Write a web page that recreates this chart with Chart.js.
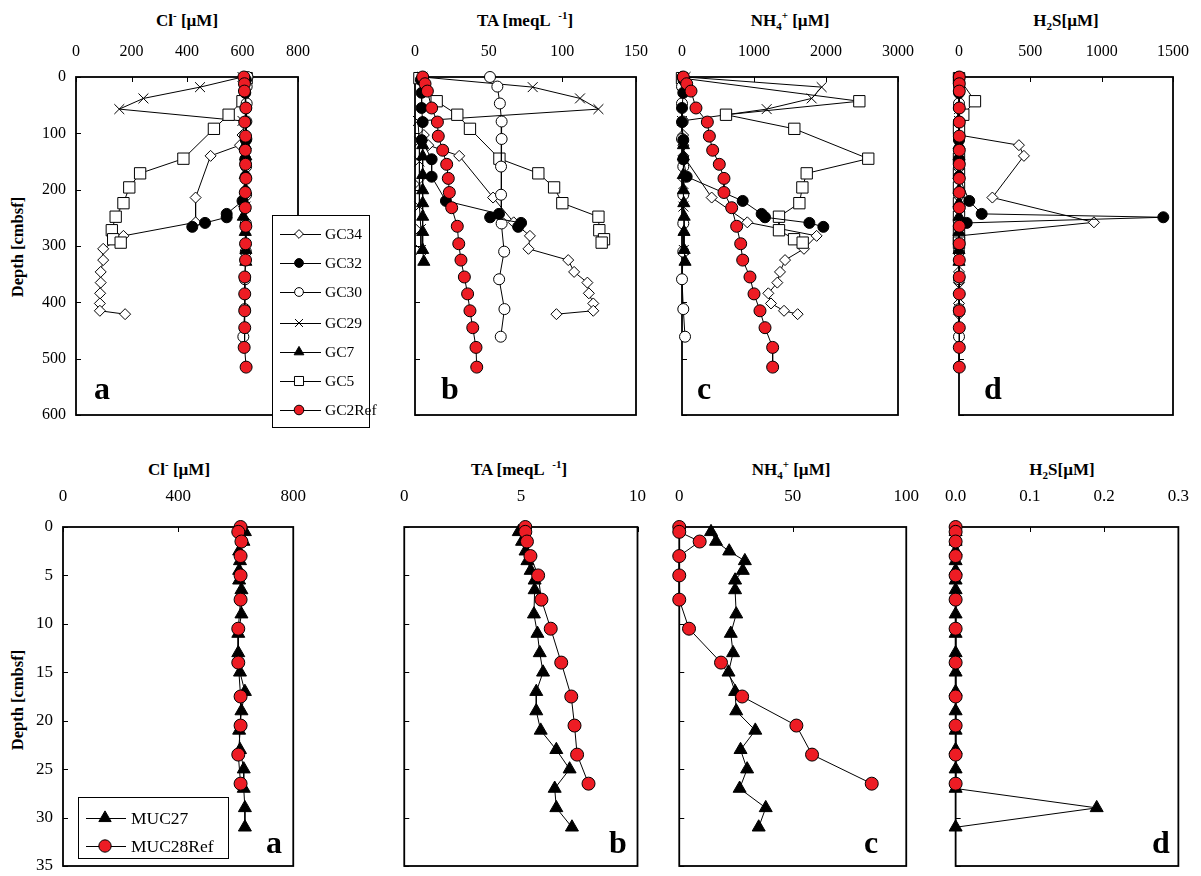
<!DOCTYPE html>
<html>
<head>
<meta charset="utf-8">
<script src="https://cdn.jsdelivr.net/npm/chart.js@4.4.0/dist/chart.umd.min.js"></script>
<style>
  html,body{margin:0;padding:0;background:#fff;}
  body{width:1201px;height:876px;position:relative;overflow:hidden;font-family:"Liberation Serif","Times New Roman",serif;color:#000;}
  canvas.cv{position:absolute;}
  .t{position:absolute;font-weight:bold;font-size:17px;line-height:20px;white-space:nowrap;transform:translateX(-50%);}
  .t sup,.t sub{font-size:11px;line-height:0;}
  .yt{position:absolute;font-weight:bold;font-size:16.5px;line-height:20px;white-space:nowrap;transform:translate(-50%,-50%) rotate(-90deg);}
  .let{position:absolute;font-weight:bold;font-size:32px;line-height:32px;z-index:3;}
  .leg{position:absolute;background:#fff;border:1px solid #000;z-index:5;}
  .leg canvas{position:absolute;left:0;top:0;}
  .lt{position:absolute;white-space:nowrap;}
</style>
</head>
<body>
<div class="t" style="left:187px;top:11px">Cl<sup>-</sup> [µM]</div>
<div class="t" style="left:525px;top:11px">TA [meqL &nbsp;<sup>-1</sup>]</div>
<div class="t" style="left:790px;top:11px">NH<sub>4</sub><sup>+</sup> [µM]</div>
<div class="t" style="left:1066px;top:11px">H<sub>2</sub>S[µM]</div>
<div class="t" style="left:179px;top:460px">Cl<sup>-</sup> [µM]</div>
<div class="t" style="left:519px;top:460px">TA [meqL &nbsp;<sup>-1</sup>]</div>
<div class="t" style="left:791px;top:460px">NH<sub>4</sub><sup>+</sup> [µM]</div>
<div class="t" style="left:1062px;top:460px">H<sub>2</sub>S[µM]</div>
<div class="yt" style="left:18px;top:247px">Depth [cmbsf]</div>
<div class="yt" style="left:18px;top:700px">Depth [cmbsf]</div>

<div class="let" style="left:94px;top:372px">a</div>
<div class="let" style="left:441px;top:372px">b</div>
<div class="let" style="left:697px;top:372px">c</div>
<div class="let" style="left:984px;top:372px">d</div>
<div class="let" style="left:266px;top:826px">a</div>
<div class="let" style="left:609px;top:826px">b</div>
<div class="let" style="left:864px;top:826px">c</div>
<div class="let" style="left:1152px;top:826px">d</div>

<script>
// ---------------- Tick labels ----------------
const topDepthTicks = [0,100,200,300,400,500,600];
const botDepthTicks = [0,5,10,15,20,25,30,35];
const topClTicks  = [0,200,400,600,800];
const topTATicks  = [0,50,100,150];
const topNH4Ticks = [0,1000,2000,3000];
const topH2STicks = [0,500,1000,1500];
const botClTicks  = [0,400,800];
const botTATicks  = [0,5,10];
const botNH4Ticks = [0,50,100];
const botH2STicks = [0,0.1,0.2,0.3];

// ---------------- Gravity cores (top row), depth in cmbsf ----------------
const gc34Depth = [103,121,140,214,258,282,305,325,346,365,384,402,415,421];
const gc34Cl    = [600,591,485,431,431,171,98,98,89,89,87,86,86,177];
const gc34TA    = [6,9,30,53,67,78,77,104,108,117,118,121,121,96];
const gc34NH4   = [15,18,20,412,907,1870,1694,1431,1361,1324,1199,1236,1417,1606];
const gc34H2S   = [0,420,455,234,946,0,0,0,0,0,0,0,0,0];

const gc32Depth = [5,28,55,80,112,146,177,220,243,249,259,266];
const gc32Cl    = [612,610,612,611,612,610,611,600,543,543,465,419];
const gc32TA    = [4,4.5,4.5,5.2,4.5,11.3,11.3,21,57,51,72,70];
const gc32NH4   = [20,18,0,0,18,18,65,843,1106,1153,1769,1963];
const gc32H2S   = [0,0,0,0,0,0,0,72,159,1432,54,0];

const gc30Depth = [0,17,47,79,110,159,209,260,310,359,412,461];
const gc30Cl    = [618,615,615,614,614,613,613,612,612,609,608,603];
const gc30TA    = [50.9,55.9,57.6,58.8,58.8,58.4,58.4,58.8,60.5,57.1,60.7,58.2];
const gc30NH4   = [10,0,0,10,0,18,18,18,18,0,18,42];
const gc30H2S   = [0,0,0,0,0,0,0,0,0,0,0,0];

const gc29Depth = [0,18,38,57,78,115,150,190,230,270,307];
const gc29Cl    = [600,447,243,156,600,608,610,611,611,610,611];
const gc29TA    = [5,79.9,112,124.5,2,3,3,3,3,4,4];
const gc29NH4   = [50,1940,1801,1176,0,20,20,20,20,25,25];
const gc29H2S   = [0,0,0,0,0,0,0,0,0,0,0];

const gc7Depth  = [121,141,174,201,224,248,275,307,328];
const gc7Cl     = [610,612,610,611,608,603,610,612,612];
const gc7TA     = [5.2,5.2,5.2,5.2,5.2,5.2,5.2,5.2,6];
const gc7NH4    = [20,18,18,20,25,30,28,30,42];
const gc7H2S    = [0,0,0,0,0,0,0,0,0];

const gc5Depth  = [2,43,67,92,145,171,196,224,248,272,288,294];
const gc5Cl     = [615,600,550,497,387,231,192,171,143,129,134,161];
const gc5TA     = [3,14.7,28.7,37.3,57.3,83.7,94.4,100,124.5,125.1,128.3,126.7];
const gc5NH4    = [0,2463,611,1560,2587,1732,1672,1630,1347,1347,1556,1676];
const gc5H2S    = [0,112,30,0,0,0,0,0,0,0,0,0];

const gc2Depth  = [0,12,25,55,80,105,130,155,180,205,232,265,296,325,355,385,415,445,480,515];
const gc2Cl     = [605,607,607,612,608,611,610,611,612,610,610,612,611,611,608,608,608,608,606,613];
const gc2TA     = [5.2,6.8,8.4,11.3,15.2,15.8,18.8,21.5,22.6,23.3,24.9,28.7,29.7,31.2,33.5,35.7,37.3,39.2,41.4,41.9];
const gc2NH4    = [18,65,125,194,352,380,426,518,583,583,690,759,815,843,944,1000,1083,1153,1259,1259];
const gc2H2S    = [2,2,2,2,2,2,2,2,2,2,2,2,2,2,2,2,2,2,2,2];

// ---------------- Multicores (bottom row) ----------------
const muc27Depth = [0.5,1.5,2.5,3.5,4.5,5.5,6.5,9,11,13,15,17,19,21,23,25,27,29,31];
const muc27Cl    = [632,627,612,615,612,612,620,620,609,609,615,632,620,612,615,628,628,632,632];
const muc27TA    = [4.91,5.05,5.2,5.28,5.42,5.59,5.59,5.56,5.71,5.81,5.95,5.66,5.66,5.85,6.52,7.09,6.45,6.52,7.19];
const muc27NH4   = [14.0,16.2,22.0,28.9,28.0,24.6,24.6,25.1,22.7,23.7,21.7,24.6,25.1,33.5,27.0,29.9,26.6,38.1,35.0];
const muc27H2S   = [0,0,0,0,0,0,0,0,0,0,0,0,0,0,0,0,0,0.19,0];

const muc28Depth = [0,0.5,1.5,3,5,7.5,10.5,14,17.5,20.5,23.5,26.5];
const muc28Cl    = [617,609,620,617,617,617,609,609,617,617,609,617];
const muc28TA    = [5.19,5.19,5.26,5.41,5.74,5.88,6.28,6.73,7.16,7.30,7.41,7.90];
const muc28NH4   = [0,0,9.0,0,0,0,4.3,18.4,27.7,51.6,58.5,84.8];
const muc28H2S   = [0,0,0,0,0,0,0,0,0,0,0,0];

// ---------------- Styles ----------------
const FONT = '"Liberation Serif","Times New Roman",serif';
const RED = '#ED1C24';
const STYLE = {
  GC34:   {pointStyle:'rectRot',  pointRadius:5.5, pointBackgroundColor:'#fff'},
  GC32:   {pointStyle:'circle',   pointRadius:5.5, pointBackgroundColor:'#000'},
  GC30:   {pointStyle:'circle',   pointRadius:5.5, pointBackgroundColor:'#fff'},
  GC29:   {pointStyle:'crossRot', pointRadius:7,   pointBackgroundColor:'#000'},
  GC7:    {pointStyle:'triangle', pointRadius:7,   pointBackgroundColor:'#000'},
  GC5:    {pointStyle:'rect',     pointRadius:8,   pointBackgroundColor:'#fff'},
  GC2Ref: {pointStyle:'circle',   pointRadius:6,   pointBackgroundColor:RED},
  MUC27:  {pointStyle:'triangle', pointRadius:7.5, pointBackgroundColor:'#000'},
  MUC28Ref:{pointStyle:'circle',  pointRadius:6.5, pointBackgroundColor:RED}
};
const ORDER = {GC2Ref:0, GC32:1, GC7:2, GC30:3, GC5:4, GC34:5, GC29:6, MUC28Ref:0, MUC27:1};

function pts(depth, vals){ return depth.map((d,i)=>({x:vals[i], y:d})); }

const framePlugin = {
  id:'frame',
  beforeDatasetsDraw(chart){
    const {ctx, chartArea:a, scales} = chart;
    const x = scales.x, y = scales.y;
    ctx.save();
    ctx.strokeStyle = '#000';
    ctx.lineWidth = 1.8;
    ctx.strokeRect(a.left, a.top, a.right - a.left, a.bottom - a.top);
    ctx.lineWidth = 1;
    ctx.beginPath();
    x.ticks.forEach(t=>{ const p = Math.round(x.getPixelForValue(t.value))+0.5; ctx.moveTo(p, a.top); ctx.lineTo(p, a.top+5); });
    y.ticks.forEach(t=>{ const p = Math.round(y.getPixelForValue(t.value))+0.5; ctx.moveTo(a.left, p); ctx.lineTo(a.left+5, p); });
    ctx.stroke();
    ctx.restore();
  }
};

const PAD_R = 20;
function build(cfg, w){
  const cv = document.createElement('canvas');
  cv.className = 'cv';
  cv.width = w; cv.height = cfg.h;
  cv.style.left = cfg.left + 'px'; cv.style.top = cfg.top + 'px';
  document.body.appendChild(cv);
  const A = cfg.area;
  const fmt = cfg.fmt || (v => String(v));
  const chart = new Chart(cv.getContext('2d'), {
    type:'scatter',
    data:{datasets: cfg.series.map(s => Object.assign({
      label:s.name, data:pts(s.depth, s.val), showLine:true,
      borderColor:'#000', borderWidth:1, pointBorderColor:'#000', pointBorderWidth:1,
      pointHoverRadius:0, order:ORDER[s.name], clip:false, tension:0
    }, STYLE[s.name]))},
    options:{
      responsive:false, animation:false, events:[],
      layout:{autoPadding:false, padding:{left:0, top:0, right:PAD_R, bottom:cfg.h - A.bottom}},
      plugins:{legend:{display:false}, tooltip:{enabled:false}, title:{display:false}},
      scales:{
        x:{type:'linear', position:'top', min:cfg.xTicks[0], max:cfg.xTicks[cfg.xTicks.length-1],
           afterBuildTicks:s => { s.ticks = cfg.xTicks.map(v => ({value:v})); },
           afterFit:s => { s.height = A.top; },
           grid:{display:false, drawTicks:false}, border:{display:false},
           ticks:{autoSkip:false, maxRotation:0, minRotation:0, padding:cfg.xPad, color:'#000',
                  font:{family:FONT, size:cfg.fs}, callback:v => fmt(v)}},
        y:{type:'linear', position:'left', reverse:true, min:cfg.yTicks[0], max:cfg.yTicks[cfg.yTicks.length-1],
           afterBuildTicks:s => { s.ticks = cfg.yTicks.map(v => ({value:v})); },
           afterFit:s => { s.width = A.left; },
           grid:{display:false, drawTicks:false}, border:{display:false},
           ticks:{display:!!cfg.showY, autoSkip:false, padding:10, color:'#000',
                  font:{family:FONT, size:cfg.fs}, callback:v => String(v)}}
      }
    },
    plugins:[framePlugin]
  });
  return {chart, cv};
}

// Build the panel, then resize the canvas (secant step) so the plot's right edge sits where the reference has it.
function panel(cfg){
  const T = cfg.area.right;
  let w0 = cfg.area.right + PAD_R;
  let r = build(cfg, w0);
  let e0 = r.chart.chartArea.right - T;
  if (Math.abs(e0) < 0.3) return r.chart;
  r.chart.destroy(); r.cv.remove();
  let w1 = Math.round(w0 - e0);
  r = build(cfg, w1);
  let e1 = r.chart.chartArea.right - T;
  for (let k = 0; k < 3 && Math.abs(e1) >= 0.6; k++) {
    const slope = (w1 !== w0) ? (e1 - e0) / (w1 - w0) : 1;
    const w2 = Math.round(w1 - e1 / (slope || 1));
    if (w2 === w1) break;
    r.chart.destroy(); r.cv.remove();
    w0 = w1; e0 = e1; w1 = w2;
    r = build(cfg, w1);
    e1 = r.chart.chartArea.right - T;
  }
  return r.chart;
}

function topSeries(cl){
  const sets = {
    GC34:[gc34Depth,[gc34Cl,gc34TA,gc34NH4,gc34H2S]],
    GC32:[gc32Depth,[gc32Cl,gc32TA,gc32NH4,gc32H2S]],
    GC30:[gc30Depth,[gc30Cl,gc30TA,gc30NH4,gc30H2S]],
    GC29:[gc29Depth,[gc29Cl,gc29TA,gc29NH4,gc29H2S]],
    GC7: [gc7Depth, [gc7Cl, gc7TA, gc7NH4, gc7H2S]],
    GC5: [gc5Depth, [gc5Cl, gc5TA, gc5NH4, gc5H2S]],
    GC2Ref:[gc2Depth,[gc2Cl, gc2TA, gc2NH4, gc2H2S]]
  };
  return Object.keys(sets).map(k => ({name:k, depth:sets[k][0], val:sets[k][1][cl]}));
}
function botSeries(cl){
  return [
    {name:'MUC27', depth:muc27Depth, val:[muc27Cl,muc27TA,muc27NH4,muc27H2S][cl]},
    {name:'MUC28Ref', depth:muc28Depth, val:[muc28Cl,muc28TA,muc28NH4,muc28H2S][cl]}
  ];
}

const TH = 445, BH = 446;
// top row (area in canvas coordinates)
panel({left:0,   top:0, h:TH, area:{left:76, top:77, right:298, bottom:415}, xTicks:topClTicks,  yTicks:topDepthTicks, showY:true, fs:16, xPad:16, series:topSeries(0)});
panel({left:390, top:0, h:TH, area:{left:25, top:77, right:246, bottom:415}, xTicks:topTATicks,  yTicks:topDepthTicks, fs:16, xPad:16, series:topSeries(1)});
panel({left:660, top:0, h:TH, area:{left:22, top:77, right:238, bottom:415}, xTicks:topNH4Ticks, yTicks:topDepthTicks, fs:16, xPad:16, series:topSeries(2)});
panel({left:935, top:0, h:TH, area:{left:24, top:77, right:238, bottom:415}, xTicks:topH2STicks, yTicks:topDepthTicks, fs:16, xPad:16, series:topSeries(3)});
// bottom row
panel({left:0,   top:450, h:BH, area:{left:63, top:77, right:293, bottom:416}, xTicks:botClTicks,  yTicks:botDepthTicks, showY:true, fs:17, xPad:20, series:botSeries(0)});
panel({left:380, top:450, h:BH, area:{left:22, top:77, right:257, bottom:416}, xTicks:botTATicks,  yTicks:botDepthTicks, fs:17, xPad:20, series:botSeries(1)});
panel({left:655, top:450, h:BH, area:{left:21, top:77, right:251, bottom:416}, xTicks:botNH4Ticks, yTicks:botDepthTicks, fs:17, xPad:20, series:botSeries(2)});
panel({left:925, top:450, h:BH, area:{left:22, top:77, right:253, bottom:416}, xTicks:botH2STicks, yTicks:botDepthTicks, fs:17, xPad:20, fmt:v => v.toFixed(1), series:botSeries(3)});

// ---------------- Legends ----------------
function legend(box, names, rowY, lineX0, lineX1, markX, textX, fontSize, scale){
  const d = document.createElement('div');
  d.className = 'leg';
  d.style.left = box.left+'px'; d.style.top = box.top+'px';
  d.style.width = box.w+'px'; d.style.height = box.h+'px';
  const cv = document.createElement('canvas');
  cv.width = box.w; cv.height = box.h;
  d.appendChild(cv);
  const ctx = cv.getContext('2d');
  names.forEach((n,i) => {
    const y = rowY[i];
    ctx.strokeStyle = '#000'; ctx.lineWidth = 1;
    ctx.beginPath(); ctx.moveTo(lineX0, y+0.5); ctx.lineTo(lineX1, y+0.5); ctx.stroke();
    const st = STYLE[n];
    ctx.fillStyle = st.pointBackgroundColor; ctx.strokeStyle = '#000'; ctx.lineWidth = 1;
    const o = {pointStyle:st.pointStyle, radius:st.pointRadius*scale, rotation:0, borderWidth:1};
    if (Chart.helpers && Chart.helpers.drawPoint) Chart.helpers.drawPoint(ctx, o, markX, y);
    const t = document.createElement('div');
    t.className = 'lt';
    t.style.left = textX+'px'; t.style.top = (y - fontSize*0.6)+'px';
    t.style.fontSize = fontSize+'px'; t.style.lineHeight = (fontSize*1.2)+'px';
    t.textContent = n;
    d.appendChild(t);
  });
  document.body.appendChild(d);
}
legend({left:272, top:215, w:96, h:211},
  ['GC34','GC32','GC30','GC29','GC7','GC5','GC2Ref'],
  [18,47,76,107,136,165,194], 7, 48, 26, 52, 15.5, 0.8);
legend({left:78, top:797, w:149, h:60},
  ['MUC27','MUC28Ref'],
  [20,48], 7, 47, 26, 52, 17.5, 0.95);
</script>
</body>
</html>
